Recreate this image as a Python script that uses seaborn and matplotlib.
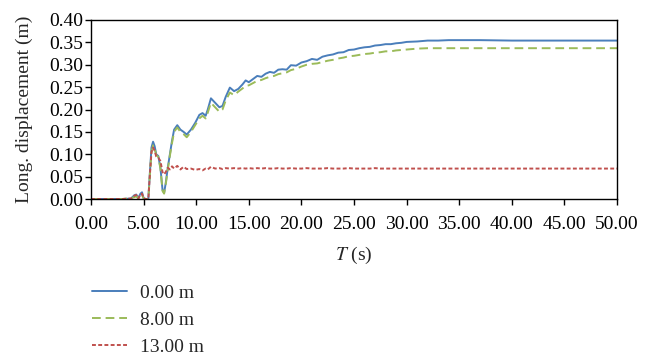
import matplotlib
matplotlib.use('Agg')
import matplotlib.pyplot as plt
import seaborn as sns
import pandas as pd

sns.set_style('ticks')
plt.rcParams['font.family'] = ['Liberation Serif', 'DejaVu Serif']
plt.rcParams['mathtext.fontset'] = 'stix'

# time (s)
t = [0, 1, 2, 3, 3.8, 4.1, 4.3, 4.5, 4.7, 4.85, 5.0, 5.2, 5.45, 5.6, 5.75, 5.9,
     6.05, 6.2, 6.4, 6.6, 6.8, 6.95, 7.1, 7.3, 7.5, 7.7, 7.9, 8.2, 8.5, 8.8,
     9.1, 9.5, 9.9, 10.3, 10.6, 10.9, 11.1, 11.4, 11.8, 12.2, 12.5, 12.8, 13.2,
     13.6, 14.0, 14.4, 14.7, 15.0, 15.4, 15.8, 16.2, 16.6, 17.0, 17.4, 17.8,
     18.2, 18.6, 19.0, 19.5, 20.0, 20.5, 21.0, 21.5, 22.0, 22.5, 23.0, 23.5,
     24.0, 24.5, 25.0, 25.5, 26.0, 26.5, 27.0, 27.5, 28.0, 28.5, 29.0, 29.5,
     30.0, 31, 32, 33, 34, 35, 37, 40, 45, 50]

# longitudinal displacement (m)
d_0m = [0, 0, 0, 0, 0.001, 0.008, 0.010, 0.002, 0.012, 0.015, 0.002, 0.0, 0.0,
        0.060, 0.115, 0.128, 0.118, 0.100, 0.096, 0.070, 0.020, 0.014, 0.035,
        0.070, 0.100, 0.130, 0.155, 0.165, 0.155, 0.150, 0.144, 0.155, 0.170,
        0.188, 0.192, 0.186, 0.200, 0.225, 0.215, 0.205, 0.208, 0.228, 0.249,
        0.241, 0.246, 0.256, 0.265, 0.261, 0.268, 0.275, 0.273, 0.280, 0.284,
        0.282, 0.289, 0.290, 0.289, 0.299, 0.298, 0.305, 0.308, 0.313, 0.311,
        0.318, 0.321, 0.323, 0.327, 0.328, 0.333, 0.334, 0.337, 0.339, 0.340,
        0.343, 0.344, 0.346, 0.346, 0.348, 0.349, 0.351, 0.352, 0.354, 0.354,
        0.355, 0.355, 0.355, 0.354, 0.354, 0.354]

d_8m = [0, 0, 0, 0, 0.002, 0.004, 0.006, 0.001, 0.008, 0.010, 0.001, 0, 0,
        0.055, 0.105, 0.120, 0.112, 0.098, 0.094, 0.068, 0.018, 0.012, 0.032,
        0.066, 0.097, 0.125, 0.150, 0.160, 0.150, 0.145, 0.138, 0.150, 0.165,
        0.180, 0.186, 0.180, 0.193, 0.215, 0.205, 0.195, 0.200, 0.220, 0.238,
        0.232, 0.240, 0.247, 0.253, 0.254, 0.259, 0.264, 0.266, 0.270, 0.273,
        0.275, 0.279, 0.281, 0.283, 0.288, 0.291, 0.296, 0.300, 0.302, 0.303,
        0.306, 0.309, 0.311, 0.314, 0.316, 0.319, 0.320, 0.322, 0.324, 0.325,
        0.327, 0.328, 0.330, 0.330, 0.332, 0.333, 0.334, 0.336, 0.337, 0.337,
        0.337, 0.337, 0.337, 0.337, 0.337, 0.337]

d_13m = [0, 0, 0, 0, 0.001, 0.007, 0.009, 0.001, 0.010, 0.012, 0.001, 0, 0,
         0.055, 0.105, 0.115, 0.108, 0.095, 0.092, 0.085, 0.060, 0.055, 0.060,
         0.070, 0.066, 0.073, 0.068, 0.074, 0.066, 0.072, 0.067, 0.068, 0.065,
         0.067, 0.064, 0.068, 0.066, 0.072, 0.068, 0.069, 0.067, 0.069, 0.068,
         0.069, 0.068, 0.069, 0.068, 0.069, 0.068, 0.069, 0.068, 0.069, 0.068,
         0.068, 0.069, 0.068, 0.068, 0.069, 0.068, 0.068, 0.069, 0.068, 0.068,
         0.068, 0.069, 0.068, 0.068, 0.068, 0.069, 0.068, 0.068, 0.068, 0.068,
         0.069, 0.068, 0.068, 0.068, 0.068, 0.068, 0.068, 0.068, 0.068, 0.068,
         0.068, 0.068, 0.068, 0.068, 0.068, 0.068]

labels = ['0.00 m', '8.00 m', '13.00 m']
colors = ['#4A7EBB', '#9BBB59', '#C0504D']
dashes = [None, (4.5, 2.5), (2, 1.2)]

df = pd.DataFrame({'t': t, labels[0]: d_0m, labels[1]: d_8m, labels[2]: d_13m})

fig = plt.figure(figsize=(6.55, 3.58), dpi=100)
ax = fig.add_axes([91 / 655, 1 - 199 / 358, (617 - 91) / 655, (199 - 20) / 358])

for lab, c, ds in zip(labels, colors, dashes):
    sns.lineplot(data=df, x='t', y=lab, ax=ax, color=c, lw=1.4,
                 label=lab, legend=False, estimator=None, sort=False)
    if ds is not None:
        ax.lines[-1].set_dashes(ds)

ax.set_xlim(0, 50)
ax.set_ylim(0, 0.40)
ax.set_xticks([i * 5 for i in range(11)])
ax.set_yticks([i * 0.05 for i in range(9)])
ax.xaxis.set_major_formatter(matplotlib.ticker.FormatStrFormatter('%.2f'))
ax.yaxis.set_major_formatter(matplotlib.ticker.FormatStrFormatter('%.2f'))
ax.tick_params(direction='out', length=4, width=1, labelsize=14, colors='black')
ax.tick_params(axis='x', pad=8)
ax.tick_params(axis='y', pad=1.5)
for s in ax.spines.values():
    s.set_visible(True)
    s.set_color('black')
    s.set_linewidth(1.0)

ax.set_xlabel('$T$ (s)', fontsize=14, labelpad=9)
ax.set_ylabel('Long. displacement (m)', fontsize=14, labelpad=12)

handles = ax.lines[:3]
fig.legend(handles, labels, loc='upper left', bbox_to_anchor=(92 / 655, 1 - 284 / 358),
           frameon=False, fontsize=14, borderpad=0, borderaxespad=0,
           handlelength=1.8, handletextpad=0.65, labelspacing=0.5)

fig.savefig('out.png', dpi=100)
